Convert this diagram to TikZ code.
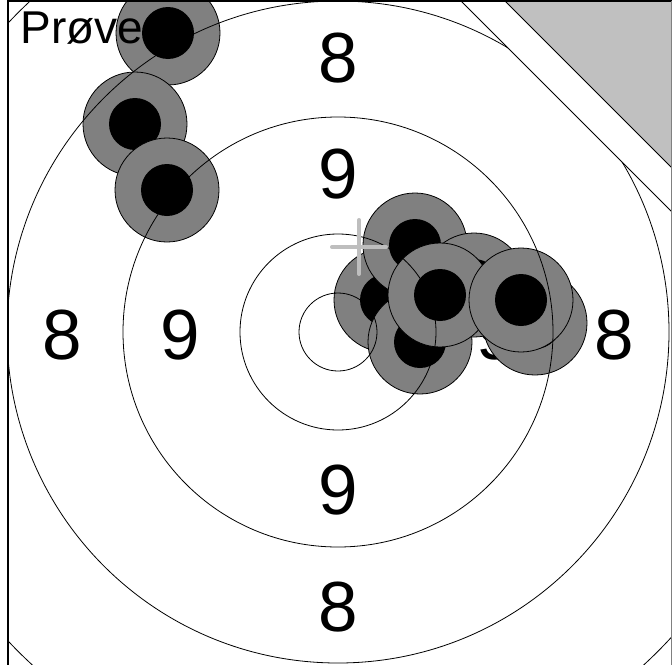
\documentclass[tikz,border=0pt]{standalone}
\usepackage{fontspec}
\setmainfont{Liberation Sans}
\definecolor{shotgray}{RGB}{128,128,128}
\definecolor{cornergray}{RGB}{192,192,192}
\definecolor{crossgray}{RGB}{190,190,190}
\newcommand\shotmark[2]{%
  \node[shotouter] (#1) at #2 {};
  \node[shotinner] (#1i) at (#1) {};}
\begin{document}
\begin{tikzpicture}[x=1pt,y=-1pt,
  ring/.style={draw=black,line width=0.8pt},
  shotouter/.style={circle,fill=shotgray,draw=black,line width=0.8pt,minimum size=104pt,inner sep=0pt},
  shotinner/.style={circle,fill=black,minimum size=52pt,inner sep=0pt},
  num/.style={font=\fontsize{71}{71}\selectfont,inner sep=0pt,anchor=center},
  lbl/.style={font=\fontsize{46}{46}\selectfont,inner sep=0pt,anchor=base west},
]
\useasboundingbox (0,0) rectangle (672,664);
\fill[white] (0,0) rectangle (672,664);
\coordinate (c) at (338,332);
\begin{scope}
\clip (8,1) rectangle (672,664);
% labels
\node[num] (t8) at (338,58) {8};
\node[num] (t9) at (338,174) {9};
\node[num] (b9) at (338,490) {9};
\node[num] (b8) at (338,607) {8};
\node[num] (l8) at (62,335) {8};
\node[num] (l9) at (180,335) {9};
\node[num] (r9) at (496,335) {9};
\node[num] (r8) at (614,335) {8};
% shots
\shotmark{s1}{(168,33)}
\shotmark{s2}{(135,124)}
\shotmark{s3}{(167,190)}
\shotmark{sb}{(386,300)}
\shotmark{sa}{(415,245)}
\shotmark{sc}{(420,342)}
\shotmark{se}{(474,285)}
\shotmark{sg}{(535,323)}
\shotmark{sd}{(440,295)}
\shotmark{sf}{(521,300)}
% rings
\foreach \r in {39,98,215,331,452}{
  \draw[ring] (c) circle[radius=\r pt];
}
% trial label
\node[lbl] (prove) at (20.5,43) {Prøve};
% corner
\fill[white] (460,0) -- (690,230) -- (690,0) -- cycle;
\draw[ring] (460,0) -- (690,230);
\fill[cornergray] (504,0) -- (690,186) -- (690,0) -- cycle;
\draw[ring] (504,0) -- (690,186);
% crosshair
\coordinate (x0) at (359,247);
\draw[crossgray,line width=4pt,line cap=round] ([xshift=-27pt]x0) -- ([xshift=27pt]x0);
\draw[crossgray,line width=4pt,line cap=round] ([yshift=-27pt]x0) -- ([yshift=27pt]x0);
\end{scope}
% frame
\draw[line width=1.3pt] (8,680) -- (8,1) -- (672,1);
\draw[gray,line width=1pt] (671.5,1) -- (671.5,680);
\end{tikzpicture}
\end{document}
